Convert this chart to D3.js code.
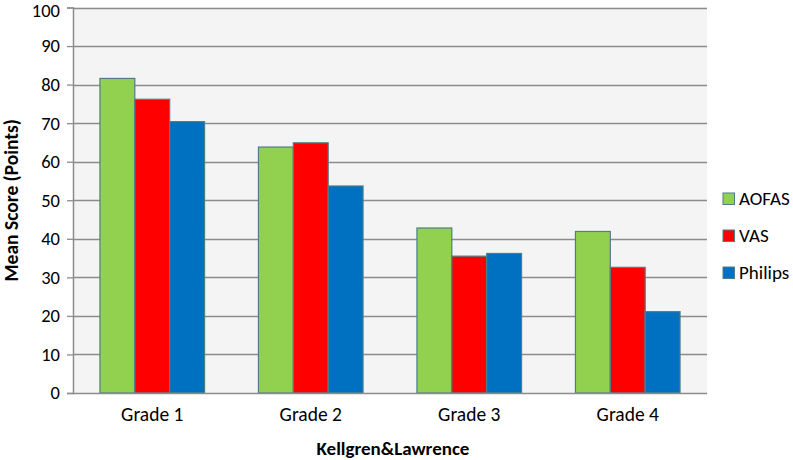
<!DOCTYPE html>
<html><head><meta charset="utf-8">
<script src="https://cdn.jsdelivr.net/npm/d3@7/dist/d3.min.js"></script>
<style>body{margin:0;background:#fff}svg{display:block}text{font-family:Carlito,Lato,"Open Sans",sans-serif}</style>
</head><body><svg id="c" width="793" height="460"></svg>
<script>
const categories = ["Grade 1","Grade 2","Grade 3","Grade 4"];
const seriesNames = ["AOFAS","VAS","Philips"];
const aofas = [81.6, 63.8, 42.8, 41.9];
const vas = [76.2, 64.9, 35.5, 32.6];
const philips = [70.4, 53.7, 36.2, 21.1];
const yTicks = [0,10,20,30,40,50,60,70,80,90,100];
const colors = ["#92D050","#FF0000","#0070C0"];
const seriesValues = [aofas, vas, philips];

const svg = d3.select("#c");
const L=73, R=707, T=7.5, B=393;
const x = d3.scaleBand().domain(categories).range([L,R]).paddingInner(0.34).paddingOuter(0.17);
const xs = d3.scaleBand().domain(seriesNames).range([0,x.bandwidth()]);
const y = d3.scaleLinear().domain([0,100]).range([B,T]);

svg.append("rect").attr("x",L).attr("y",T).attr("width",R-L).attr("height",B-T).attr("fill","#F4F4F4");

// gridlines
svg.append("g").selectAll("line").data(yTicks.filter(d=>d>0)).join("line")
  .attr("x1",L).attr("x2",R).attr("y1",d=>Math.round(y(d))+0.5).attr("y2",d=>Math.round(y(d))+0.5)
  .attr("stroke","#8C8C8C").attr("stroke-width",1.3);

// y axis
const ya = svg.append("g").attr("transform",`translate(${L},0)`)
  .call(d3.axisLeft(y).tickValues(yTicks).tickSize(6).tickPadding(7));
ya.select(".domain").attr("stroke","#8C8C8C").attr("stroke-width",1.5);
ya.selectAll(".tick line").attr("stroke","#8C8C8C").attr("stroke-width",1.3);
ya.selectAll("text").attr("font-size",18.5).attr("fill","#000");
ya.selectAll(".tick").filter(d=>d===100).select("text").attr("dy","0.5em");

// bars
const g = svg.append("g");
categories.forEach((c,i)=>{
  seriesNames.forEach((s,j)=>{
    const v = seriesValues[j][i];
    g.append("rect").attr("x",x(c)+xs(s)).attr("width",xs.bandwidth())
      .attr("y",y(v)).attr("height",B-y(v))
      .attr("fill",colors[j]).attr("stroke","#4E7F86").attr("stroke-width",1.2);
  });
});

// x axis
const xa = svg.append("g").attr("transform",`translate(0,${B})`)
  .call(d3.axisBottom(x).tickSize(0).tickPadding(14));
xa.select(".domain").attr("stroke","#8C8C8C").attr("stroke-width",1.5).attr("d",`M${L},0.5H${R}`);
xa.selectAll("text").attr("font-size",19.5).attr("fill","#000");

// axis titles
svg.append("text").attr("x",393).attr("y",455).attr("text-anchor","middle")
  .attr("font-size",19).attr("font-weight","bold").text("Kellgren&Lawrence");
svg.append("text").attr("transform",`translate(18,${(T+B)/2}) rotate(-90)`).attr("text-anchor","middle")
  .attr("font-size",19.5).attr("font-weight","bold").text("Mean Score (Points)");

// legend
const lg = svg.append("g");
seriesNames.forEach((s,j)=>{
  const yy = 193 + j*37;
  lg.append("rect").attr("x",723).attr("y",yy).attr("width",11.5).attr("height",11.5)
    .attr("fill",colors[j]).attr("stroke","#4E7F86").attr("stroke-width",1);
  lg.append("text").attr("x",739).attr("y",yy+12).attr("font-size",19).text(s);
});
</script></body></html>
